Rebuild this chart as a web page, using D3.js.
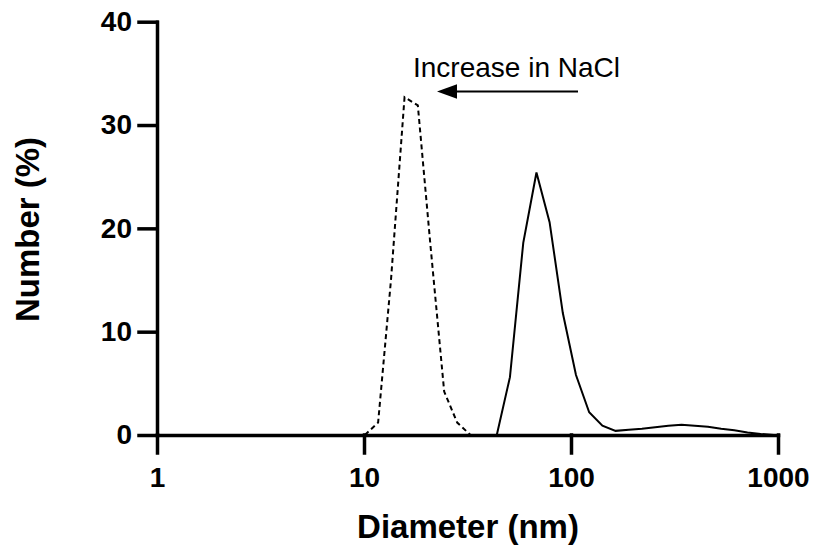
<!DOCTYPE html>
<html>
<head>
<meta charset="utf-8">
<script src="https://cdn.jsdelivr.net/npm/d3@7"></script>
<style>
  body { margin: 0; background: #fff; }
  text { font-family: "Liberation Sans", Arial, sans-serif; fill: #000; }
</style>
</head>
<body>
<div id="chart"></div>
<script>
    var width = 815,
        height = 552;

    // high NaCl (dashed)
    var dashedDiam = [10.1, 11.7, 13.5, 15.7, 18.2, 21.0, 24.4, 28.2, 32.7];
    var dashedNum  = [0, 1.2, 15.0, 32.7, 31.9, 18.1, 4.2, 1.2, 0];

    // low NaCl (solid)
    var solidDiam = [43.8, 50.7, 58.8, 68.1, 78.8, 91.3, 105.7, 122.4, 141.8, 164.2, 190.1,
                     220.2, 255.0, 295.3, 342.0, 396.1, 458.7, 531.2, 615.1, 712.4, 825.0, 955.4];
    var solidNum  = [0, 5.6, 18.6, 25.4, 20.6, 11.8, 5.8, 2.2, 0.9, 0.4, 0.5,
                     0.6, 0.75, 0.9, 1.0, 0.9, 0.8, 0.6, 0.45, 0.25, 0.1, 0];

    var xTicks = [1, 10, 100, 1000];
    var yTicks = [0, 10, 20, 30, 40];

    var x = d3.scaleLog().domain([1, 1000]).range([157, 778]);
    var y = d3.scaleLinear().domain([0, 40]).range([435, 21.7]);

    var svg = d3.select('#chart')
        .append('svg')
        .attr('width', width)
        .attr('height', height);

    var line = d3.line()
        .x(function(d){ return x(d[0]); })
        .y(function(d){ return y(d[1]); });

    svg.append('path')
        .datum(d3.zip(dashedDiam, dashedNum))
        .attr('d', line)
        .attr('fill', 'none')
        .attr('stroke', '#000')
        .attr('stroke-width', 2)
        .attr('stroke-dasharray', '5,3.5');

    svg.append('path')
        .datum(d3.zip(solidDiam, solidNum))
        .attr('d', line)
        .attr('fill', 'none')
        .attr('stroke', '#000')
        .attr('stroke-width', 2);

    var xAxis = svg.append('g')
        .attr('transform', 'translate(0,' + y(0) + ')')
        .call(d3.axisBottom(x).tickValues(xTicks).tickFormat(d3.format('d'))
            .tickSize(18).tickSizeOuter(0).tickPadding(14));

    var yAxis = svg.append('g')
        .attr('transform', 'translate(' + x(1) + ',0)')
        .call(d3.axisLeft(y).tickValues(yTicks)
            .tickSize(18).tickSizeOuter(0).tickPadding(7));

    [xAxis, yAxis].forEach(function(a){
        a.selectAll('path, line')
            .attr('stroke', '#000')
            .attr('stroke-width', 3.5)
            .attr('stroke-linecap', 'square');
        a.selectAll('text')
            .attr('fill', '#000')
            .style('font-family', '"Liberation Sans", Arial, sans-serif')
            .style('font-size', '28px')
            .style('font-weight', 'bold');
    });

    // axis titles
    svg.append('text')
        .attr('x', 468)
        .attr('y', 538)
        .attr('text-anchor', 'middle')
        .style('font-size', '33px')
        .style('font-weight', 'bold')
        .text('Diameter (nm)');

    svg.append('text')
        .attr('transform', 'translate(39,229.5) rotate(-90)')
        .attr('text-anchor', 'middle')
        .style('font-size', '33px')
        .style('font-weight', 'bold')
        .text('Number (%)');

    // annotation
    svg.append('text')
        .attr('x', 413)
        .attr('y', 76.5)
        .style('font-size', '28px')
        .text('Increase in NaCl');

    svg.append('line')
        .attr('x1', 578).attr('y1', 91.5)
        .attr('x2', 452).attr('y2', 91.5)
        .attr('stroke', '#000')
        .attr('stroke-width', 2);

    svg.append('path')
        .attr('d', 'M437,91.5 L457,84.2 L457,98.8 Z')
        .attr('fill', '#000');
</script>
</body>
</html>
